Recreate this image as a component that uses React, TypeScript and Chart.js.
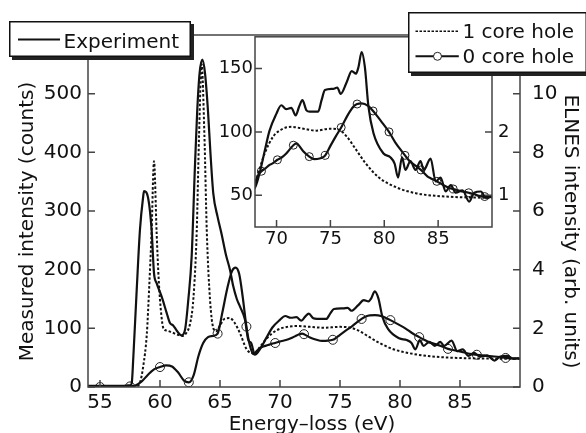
import React, { useEffect, useRef } from 'react';
import { Chart, registerables } from 'chart.js';

Chart.register(...registerables);

const FONT = '"DejaVu Sans", sans-serif';
const INK = '#111';
const AXIS = '#444';

// ---- tick labels ----
const mainXTicks = [55, 60, 65, 70, 75, 80, 85];
const mainLeftTicks = [0, 100, 200, 300, 400, 500];
const mainRightTicks = [0, 2, 4, 6, 8, 10];
const insetXTicks = [70, 75, 80, 85];
const insetLeftTicks = [50, 100, 150];
const insetRightTicks = [1, 2];

// ---- Experiment (counts) ----
const expE = [54, 55, 56, 57, 57.5, 57.64, 57.78, 58.06, 58.33, 58.6, 58.67, 59.03, 59.3, 59.5, 59.72, 60.14, 60.56, 60.83, 61.1, 61.4, 61.8, 62.08, 62.36, 62.64, 62.9, 63.1, 63.3, 63.53, 63.75, 64.0, 64.2, 64.44, 64.8, 65.14, 65.5, 65.83, 66.1, 66.4, 66.67, 67.08, 67.36, 67.6, 67.9, 68.41, 68.9, 69.35, 69.97, 70.44, 70.9, 71.37, 71.78, 72.1, 72.4, 72.78, 73.08, 73.86, 74.18, 74.49, 75.26, 75.64, 75.95, 76.5, 76.98, 77.38, 77.6, 77.9, 78.2, 78.53, 79.0, 79.93, 80.56, 80.96, 81.28, 81.65, 81.96, 82.43, 82.9, 83.36, 83.67, 84.3, 84.77, 85.23, 85.7, 86.17, 86.64, 87.26, 87.88, 88.35, 88.97, 89.44, 89.9];
const expCounts = [2, 2, 2, 2, 3, 6, 52, 166, 268, 325, 334, 320, 268, 194, 177, 154, 126, 109, 105, 96, 88, 97, 149, 223, 370, 470, 535, 558, 535, 470, 400, 330, 290, 260, 225, 200, 172, 150, 137, 115, 80, 75, 55, 67, 85, 101, 114, 121, 118, 119, 113, 120, 125, 117, 116, 116, 125, 133, 134, 135, 130, 139, 148, 146, 151, 163, 151, 120, 99, 83, 80, 75, 64, 80, 70, 77, 70, 77, 70, 79, 61, 64, 53, 58, 52, 54, 45, 52, 53, 48, 49];

// ---- 1 core hole (arb. units) ----
const oneE = [54, 57.5, 58.0, 58.33, 58.6, 58.9, 59.1, 59.3, 59.5, 59.72, 59.9, 60.1, 60.3, 60.6, 61.0, 61.5, 61.9, 62.2, 62.5, 62.78, 63.06, 63.25, 63.47, 63.7, 63.9, 64.17, 64.45, 64.7, 65.0, 65.4, 65.8, 66.2, 66.67, 67.2, 67.6, 67.9, 68.3, 68.9, 69.7, 70.6, 71.4, 72.5, 73.7, 74.9, 75.7, 76.5, 77.3, 78.2, 79.5, 81.2, 83.0, 84.9, 87.0, 90];
const oneI = [0, 0, 0.02, 0.15, 0.7, 1.8, 3.4, 5.3, 7.7, 5.25, 3.6, 2.5, 1.98, 1.92, 1.86, 1.78, 1.74, 1.85, 2.15, 3.0, 5.3, 8.5, 11.0, 8.6, 5.3, 2.97, 2.0, 1.9, 2.1, 2.33, 2.35, 2.2, 1.83, 1.3, 1.16, 1.15, 1.35, 1.66, 1.93, 2.05, 2.08, 2.05, 2.02, 2.05, 2.04, 1.93, 1.74, 1.52, 1.28, 1.12, 1.03, 0.99, 0.97, 0.96];

// ---- 0 core hole (arb. units) ----
const zeroE = [54, 55.0, 56, 57.5, 58.0, 58.5, 59.0, 59.5, 60.0, 60.5, 61.0, 61.5, 62.0, 62.4, 62.8, 63.2, 63.6, 64.0, 64.4, 64.8, 65.2, 65.6, 66.0, 66.3, 66.6, 66.9, 67.2, 67.5, 67.8, 68.0, 68.3, 68.6, 69.0, 69.35, 69.6, 70.08, 70.5, 70.9, 71.3, 71.56, 71.85, 72.0, 72.5, 73.04, 73.5, 74.0, 74.4, 74.52, 75.0, 75.5, 76.0, 76.4, 76.8, 77.2, 77.48, 77.9, 78.5, 78.96, 79.2, 79.7, 80.44, 81.0, 81.6, 81.92, 82.4, 82.8, 83.4, 84.0, 84.3, 84.88, 85.5, 86.0, 86.4, 87.0, 87.84, 88.3, 88.8, 89.32, 90];
const zeroI = [0, 0, 0, 0.02, 0.06, 0.2, 0.42, 0.6, 0.68, 0.74, 0.7, 0.5, 0.22, 0.16, 0.4, 1.05, 1.5, 1.7, 1.74, 1.82, 2.55, 3.35, 3.95, 4.07, 3.85, 3.05, 2.06, 1.4, 1.12, 1.2, 1.32, 1.38, 1.43, 1.48, 1.5, 1.56, 1.6, 1.66, 1.74, 1.79, 1.82, 1.8, 1.69, 1.61, 1.57, 1.58, 1.61, 1.63, 1.78, 1.93, 2.07, 2.2, 2.32, 2.41, 2.44, 2.45, 2.41, 2.33, 2.28, 2.17, 2.0, 1.84, 1.7, 1.63, 1.53, 1.48, 1.4, 1.3, 1.27, 1.22, 1.16, 1.12, 1.1, 1.07, 1.04, 1.02, 0.99, 0.98, 0.97];

// marker positions (energies) on the 0 core hole curve
const mainMarkers = [55, 57.5, 60, 62.4, 64.8, 67.2, 69.6, 72, 74.4, 76.8, 79.2, 81.6, 84, 86.4, 88.8];
const insetMarkers = [68.6, 70.08, 71.56, 73.04, 74.52, 76, 77.48, 78.96, 80.44, 81.92, 83.4, 84.88, 86.4, 87.84, 89.32];

const pts = (xs: number[], ys: number[]) => xs.map((x, i) => ({ x, y: ys[i] }));

function framePlugin(tickLen: number, fillWhite: boolean, drawTitles: boolean) {
  return {
    id: 'frame',
    beforeDatasetsDraw(chart: any) {
      if (!fillWhite) return;
      const { ctx, chartArea: a } = chart;
      ctx.save();
      ctx.fillStyle = '#fff';
      ctx.fillRect(a.left, a.top, a.right - a.left, a.bottom - a.top);
      ctx.restore();
    },
    afterDatasetsDraw(chart: any) {
      const { ctx, chartArea: a, scales } = chart;
      ctx.save();
      ctx.strokeStyle = AXIS;
      ctx.lineWidth = 1.5;
      ctx.strokeRect(a.left, a.top, a.right - a.left, a.bottom - a.top);
      ctx.beginPath();
      scales.x.ticks.forEach((t: any) => {
        const p = scales.x.getPixelForValue(t.value);
        ctx.moveTo(p, a.bottom);
        ctx.lineTo(p, a.bottom - tickLen);
      });
      scales.y.ticks.forEach((t: any) => {
        const p = scales.y.getPixelForValue(t.value);
        ctx.moveTo(a.left, p);
        ctx.lineTo(a.left + tickLen, p);
      });
      scales.y1.ticks.forEach((t: any) => {
        const p = scales.y1.getPixelForValue(t.value);
        ctx.moveTo(a.right, p);
        ctx.lineTo(a.right - tickLen, p);
      });
      ctx.stroke();
      ctx.restore();
    },
    afterDraw(chart: any) {
      if (!drawTitles) return;
      const { ctx } = chart;
      ctx.save();
      ctx.fillStyle = INK;
      ctx.font = `20px ${FONT}`;
      ctx.textAlign = 'center';
      ctx.textBaseline = 'alphabetic';
      ctx.fillText('Energy\u2013loss (eV)', 312, 430);
      ctx.save();
      ctx.translate(33.3, 221.5);
      ctx.rotate(-Math.PI / 2);
      ctx.fillText('Measured intensity (counts)', 0, 0);
      ctx.restore();
      ctx.save();
      ctx.translate(565, 231.5);
      ctx.rotate(Math.PI / 2);
      ctx.fillText('ELNES intensity (arb. units)', 0, 0);
      ctx.restore();
      ctx.restore();
    },
  };
}

function makeDatasets(markers: number[], r: number) {
  return [
    {
      label: 'Experiment',
      data: pts(expE, expCounts),
      yAxisID: 'y',
      borderColor: INK,
      borderWidth: 2.2,
      pointRadius: 0,
      cubicInterpolationMode: 'monotone',
      fill: false,
    },
    {
      label: '1 core hole',
      data: pts(oneE, oneI),
      yAxisID: 'y1',
      borderColor: INK,
      borderWidth: 2,
      borderDash: [2.5, 2],
      pointRadius: 0,
      cubicInterpolationMode: 'monotone',
      fill: false,
    },
    {
      label: '0 core hole',
      data: pts(zeroE, zeroI),
      yAxisID: 'y1',
      borderColor: INK,
      borderWidth: 2.2,
      pointRadius: (c: any) => (c.raw && markers.includes(c.raw.x) ? r : 0),
      pointBorderWidth: 1,
      pointBorderColor: '#222',
      pointBackgroundColor: 'rgba(0,0,0,0)',
      cubicInterpolationMode: 'monotone',
      fill: false,
    },
  ];
}

function axis(
  opts: { min: number; max: number; position: string; ticks: number[]; size: number; pad: number; font: number; horizontal: boolean }
) {
  return {
    type: 'linear',
    position: opts.position,
    min: opts.min,
    max: opts.max,
    afterBuildTicks: (s: any) => {
      s.ticks = opts.ticks.map((v) => ({ value: v }));
    },
    afterFit: (s: any) => {
      if (opts.horizontal) s.height = opts.size;
      else s.width = opts.size;
    },
    grid: { display: false, drawTicks: false },
    border: { display: false },
    ticks: {
      color: INK,
      font: { family: FONT, size: opts.font },
      padding: opts.pad,
      maxRotation: 0,
      autoSkip: false,
    },
  };
}

export default function App() {
  const mainRef = useRef<HTMLCanvasElement | null>(null);
  const insetRef = useRef<HTMLCanvasElement | null>(null);

  useEffect(() => {
    const main = new Chart(mainRef.current as HTMLCanvasElement, {
      type: 'line',
      data: { datasets: makeDatasets(mainMarkers, 4.5) as any },
      options: {
        animation: false,
        responsive: false,
        maintainAspectRatio: false,
        events: [],
        layout: { padding: { top: 35, left: 0, right: 0, bottom: 0 } },
        plugins: { legend: { display: false }, tooltip: { enabled: false } },
        scales: {
          x: axis({ min: 54, max: 90, position: 'bottom', ticks: mainXTicks, size: 46, pad: 4, font: 20, horizontal: true }),
          y: axis({ min: 0, max: 600, position: 'left', ticks: mainLeftTicks, size: 88, pad: 6, font: 20, horizontal: false }),
          y1: axis({ min: 0, max: 12, position: 'right', ticks: mainRightTicks, size: 66, pad: 12, font: 20, horizontal: false }),
        } as any,
      },
      plugins: [framePlugin(7, false, true)],
    });
    const inset = new Chart(insetRef.current as HTMLCanvasElement, {
      type: 'line',
      data: { datasets: makeDatasets(insetMarkers, 4) as any },
      options: {
        animation: false,
        responsive: false,
        maintainAspectRatio: false,
        events: [],
        layout: { padding: { top: 15, left: 0, right: 0, bottom: 0 } },
        plugins: { legend: { display: false }, tooltip: { enabled: false } },
        scales: {
          x: axis({ min: 68, max: 90, position: 'bottom', ticks: insetXTicks, size: 43, pad: 2, font: 18, horizontal: true }),
          y: axis({ min: 25, max: 175, position: 'left', ticks: insetLeftTicks, size: 55, pad: 2, font: 18, horizontal: false }),
          y1: axis({ min: 0.5, max: 3.5, position: 'right', ticks: insetRightTicks, size: 28, pad: 6, font: 18, horizontal: false }),
        } as any,
      },
      plugins: [framePlugin(7, true, false)],
    });
    return () => {
      main.destroy();
      inset.destroy();
    };
  }, []);

  const boxStyle = (left: number, top: number, width: number, height: number): React.CSSProperties => ({
    position: 'absolute',
    left,
    top,
    width,
    height,
    background: '#fff',
    boxShadow: `inset 0 0 0 1.5px ${INK}, 3px 3px 0 #222`,
  });
  const textStyle = (left: number, top: number): React.CSSProperties => ({
    position: 'absolute',
    left,
    top,
    fontFamily: FONT,
    fontSize: 20,
    lineHeight: '20px',
    color: INK,
    whiteSpace: 'nowrap',
  });

  return (
    <div style={{ position: 'absolute', left: 0, top: 0, width: 586, height: 433, overflow: 'hidden', background: '#fff' }}>
      <canvas ref={mainRef} width={586} height={433} style={{ position: 'absolute', left: 0, top: 0 }} />
      <canvas ref={insetRef} width={320} height={250} style={{ position: 'absolute', left: 200, top: 20 }} />
      <div style={boxStyle(9, 21, 182, 36)}>
        <svg width={60} height={36} style={{ position: 'absolute', left: 0, top: 0 }}>
          <line x1={9} y1={18.5} x2={51} y2={18.5} stroke={INK} strokeWidth={2} />
        </svg>
        <span style={textStyle(54.5, 10.4)}>Experiment</span>
      </div>
      <div style={boxStyle(407.5, 12, 179, 61)}>
        <svg width={60} height={61} style={{ position: 'absolute', left: 0, top: 0 }}>
          <line x1={7.5} y1={19.3} x2={50.8} y2={19.3} stroke={INK} strokeWidth={1.6} strokeDasharray="2.5 1.5" />
          <line x1={7.5} y1={44.3} x2={50.8} y2={44.3} stroke={INK} strokeWidth={2} />
          <circle cx={29.5} cy={44.3} r={4} fill="#fff" stroke="#222" strokeWidth={1} />
        </svg>
        <span style={textStyle(55, 9.4)}>1 core hole</span>
        <span style={textStyle(55, 33.6)}>0 core hole</span>
      </div>
    </div>
  );
}
